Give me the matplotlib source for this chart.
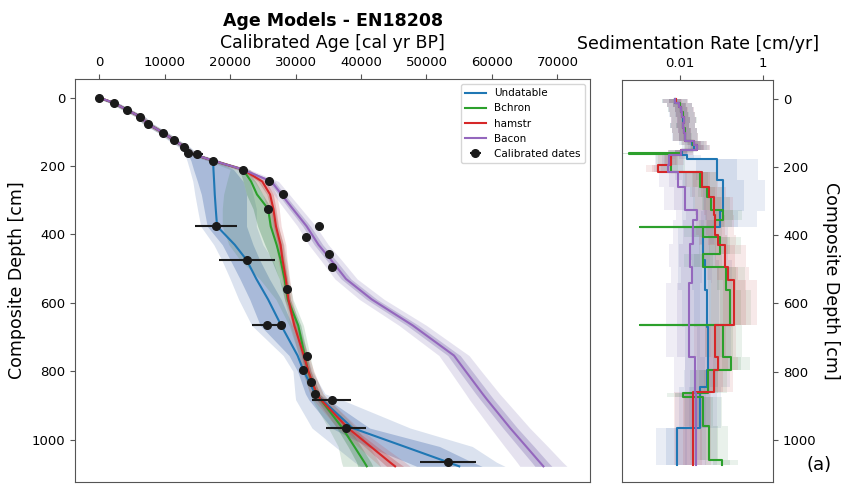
import numpy as np
import matplotlib.pyplot as plt

# ---- age-depth models (depth grid shared by all models) ----
depth = [0, 15, 36, 56, 76, 103, 124, 143, 163, 184, 210, 245, 283, 325, 376,
         430, 474, 530, 590, 666, 754, 800, 866, 883, 966, 1020, 1066, 1078]

undat_med = [0, 2200, 4300, 6300, 7400, 9800, 11400, 12950, 14000, 17400, 17450, 17550, 17650, 17800,
             18000, 20700, 22500, 24000, 25800, 27800, 30300, 31250, 33000, 34000, 38700, 46600, 53300, 55000]
undat_in_lo = [-200, 1900, 4000, 6000, 7100, 9500, 11000, 12500, 13500, 14000, 14400, 15000, 15600, 16000,
               16500, 18800, 20000, 21500, 23000, 24600, 29000, 30300, 31500, 32000, 35500, 41000, 47000, 48500]
undat_in_hi = [200, 2500, 4600, 6600, 7700, 10100, 11800, 13400, 14500, 18000, 20500, 22000, 22500, 22500,
               22500, 23500, 24500, 26000, 27800, 29500, 31000, 31800, 33500, 35000, 41300, 52000, 57000, 58500]
undat_out_lo = [-500, 1600, 3600, 5600, 6600, 9000, 10500, 12000, 13000, 13400, 13800, 14300, 14600, 15000,
                15500, 17500, 18700, 20000, 21300, 23300, 28100, 29600, 29900, 30000, 32500, 36000, 39000, 40000]
undat_out_hi = [500, 2900, 5000, 7000, 8200, 10600, 12200, 13800, 15000, 18500, 21500, 23000, 23500, 24000,
                24000, 25000, 26500, 27500, 29000, 30500, 31800, 32500, 34500, 37000, 47500, 57000, 60700, 62000]

bchron_med = [0, 2200, 4300, 6300, 7400, 9800, 11400, 12950, 14000, 17400, 21950, 23200, 24100, 25800,
              26200, 27100, 27700, 28300, 28800, 30400, 31400, 31900, 33200, 33850, 37150, 38970, 40500, 40870]
bchron_in_lo = [-200, 1900, 4000, 6000, 7100, 9500, 11100, 12650, 13700, 17000, 21400, 22000, 22500, 23500,
                24200, 25300, 26300, 27500, 28300, 29800, 30900, 31400, 32700, 33200, 36300, 38000, 39300, 39500]
bchron_in_hi = [200, 2500, 4600, 6600, 7700, 10100, 11700, 13250, 14300, 17800, 22500, 23900, 25000, 26300,
                26800, 27800, 28200, 28700, 29200, 30800, 31800, 32300, 33700, 34400, 38200, 40000, 41500, 41800]
bchron_out_lo = [-500, 1500, 3600, 5600, 6700, 9100, 10700, 12250, 13300, 16500, 20000, 19500, 19000, 18800,
                 18800, 19800, 21500, 24500, 27000, 29000, 30500, 31000, 32200, 32500, 35000, 36500, 37000, 37200]
bchron_out_hi = [500, 2900, 5000, 7000, 8100, 10500, 12100, 13650, 14800, 18300, 23000, 24600, 25800, 26800,
                 27300, 28200, 28600, 29000, 29600, 31200, 32200, 32700, 34200, 35000, 39300, 41300, 42700, 43000]

hamstr_med = [0, 2200, 4300, 6300, 7400, 9800, 11400, 12950, 14000, 17400, 21950, 24900, 26100, 26600,
              27000, 27700, 28000, 28500, 28900, 29800, 31250, 31950, 33200, 33850, 38000, 41460, 44400, 45200]
hamstr_in_lo = [0, 2000, 4050, 6000, 7100, 9500, 11100, 12650, 13700, 17100, 21600, 24300, 25600, 26200,
                26600, 27300, 27650, 28200, 28600, 29500, 30900, 31550, 32700, 33300, 37200, 40500, 43200, 43900]
hamstr_in_hi = [200, 2400, 4550, 6600, 7700, 10100, 11700, 13250, 14300, 17700, 22300, 25500, 26600, 27000,
                27400, 28100, 28350, 28800, 29200, 30100, 31600, 32350, 33700, 34400, 38800, 42400, 45600, 46500]
hamstr_out_lo = [0, 1800, 3800, 5700, 6800, 9200, 10800, 12300, 13300, 16700, 21000, 23700, 25000, 25700,
                 26200, 27000, 27300, 27900, 28300, 29200, 30500, 31100, 32200, 32700, 36400, 39500, 42200, 42900]
hamstr_out_hi = [500, 2600, 4800, 6900, 8000, 10400, 12000, 13600, 14700, 18100, 22900, 26000, 27100, 27500,
                 27800, 28500, 28700, 29100, 29500, 30400, 32000, 32800, 34200, 35000, 39600, 43400, 46700, 47500]

bacon_med = [0, 2200, 4300, 6300, 7400, 9800, 11400, 12950, 14000, 17400, 21950, 26300, 27850, 29570,
             31690, 33500, 35390, 37700, 41650, 47900, 54200, 55990, 58570, 59260, 62780, 65230, 67310, 67860]
bacon_in_lo = [-200, 1900, 4000, 6000, 7100, 9500, 11100, 12650, 13650, 17000, 21500, 25800, 27350, 29020,
               31090, 32850, 34690, 36950, 40850, 47000, 53250, 54990, 57520, 58210, 61680, 64030, 66060, 66560]
bacon_in_hi = [200, 2500, 4600, 6600, 7700, 10100, 11700, 13250, 14350, 17800, 22400, 26800, 28350, 30120,
               32290, 34150, 36090, 38450, 42450, 48800, 55150, 56990, 59620, 60310, 63880, 66430, 68560, 69160]
bacon_out_lo = [-500, 1500, 3600, 5600, 6700, 9100, 10700, 12250, 13200, 16500, 20950, 25200, 26650, 28270,
                30290, 32000, 33790, 36000, 39750, 45800, 51900, 53590, 55970, 56560, 59780, 61930, 63810, 64260]
bacon_out_hi = [500, 2900, 5000, 7000, 8100, 10500, 12100, 13650, 14800, 18300, 22950, 27400, 29050, 30870,
                33090, 35000, 36990, 39400, 43550, 50000, 56500, 58390, 61170, 61960, 65780, 68530, 70810, 71460]

# ---- calibrated dates ----
date_age = [0, 2200, 4300, 6300, 7400, 9800, 11400, 12950, 13560, 14900, 17400, 21950, 26000, 28000, 25800,
            17800, 33500, 31650, 22600, 35150, 35550, 28700, 25700, 27800, 31700, 31200, 32350, 32900,
            35500, 37700, 53250]
date_depth = [0, 15, 36, 56, 76, 103, 124, 143, 163, 164, 184, 210, 245, 283, 325,
              374, 376, 406, 475, 457, 494, 560, 666, 666, 754, 796, 830, 866,
              883, 966, 1066]
date_err = [100, 150, 150, 150, 150, 150, 200, 200, 200, 900, 300, 300, 300, 300, 300,
            3200, 300, 300, 4300, 300, 300, 300, 2400, 600, 300, 300, 300, 300,
            2950, 3050, 4250]

# ---- sedimentation rates (step functions over depth) ----
undat_edges = [0, 12, 25, 40, 55, 70, 85, 100, 123, 135, 150, 166, 176, 240, 330, 376, 474, 561, 669,
               795, 844, 966, 1073]
undat_rate = [0.0075, 0.0095, 0.0105, 0.011, 0.012, 0.0115, 0.0125, 0.013, 0.019, 0.022, 0.011,
              0.0145, 0.076, 0.11, 0.09, 0.036, 0.040, 0.044, 0.048, 0.044, 0.030, 0.0083]
undat_spread = [0.3, 0.3, 0.3, 0.3, 0.3, 0.3, 0.3, 0.3, 0.3, 0.3, 0.3,
                0.35, 1.0, 1.0, 0.9, 0.6, 0.65, 0.6, 0.55, 0.55, 0.5, 0.5]

bchron_edges = [0, 12, 25, 40, 55, 70, 85, 100, 123, 135, 150, 160, 161, 215, 259, 288, 327, 357, 375.5,
                376.5, 405, 454, 493, 561, 663.5, 664.5, 757, 795, 864, 875, 961, 1059, 1073]
bchron_rate = [0.0075, 0.0098, 0.0105, 0.0115, 0.0125, 0.0115, 0.013, 0.0135, 0.021, 0.025, 0.0105,
               0.0006, 0.006, 0.03, 0.044, 0.057, 0.11, 0.07, 0.0011, 0.036, 0.09, 0.036, 0.13, 0.16,
               0.0011, 0.11, 0.17, 0.048, 0.012, 0.036, 0.05, 0.1]
bchron_spread = [0.3, 0.3, 0.3, 0.3, 0.3, 0.3, 0.3, 0.3, 0.3, 0.3, 0.3,
                 0.4, 0.35, 0.4, 0.4, 0.45, 0.45, 0.4, 0.4, 0.45, 0.5, 0.45, 0.45, 0.5,
                 0.4, 0.45, 0.45, 0.45, 0.4, 0.45, 0.45, 0.4]

hamstr_edges = [0, 12, 25, 40, 55, 70, 85, 100, 123, 135, 150, 166, 196, 215, 259, 288, 340, 400, 430,
                493, 532, 664, 757, 795, 859, 1073]
hamstr_rate = [0.0078, 0.0097, 0.0108, 0.0112, 0.0122, 0.0118, 0.0128, 0.0132, 0.022, 0.026, 0.0105,
               0.006, 0.003, 0.033, 0.05, 0.065, 0.07, 0.08, 0.12, 0.14, 0.2, 0.07, 0.08, 0.065, 0.02]
hamstr_spread = [0.3, 0.3, 0.3, 0.3, 0.3, 0.3, 0.3, 0.3, 0.3, 0.3, 0.3,
                 0.3, 0.3, 0.4, 0.4, 0.45, 0.45, 0.45, 0.5, 0.5, 0.55, 0.5, 0.5, 0.45, 0.45]

bacon_edges = [0, 12, 25, 40, 55, 70, 85, 100, 123, 135, 150, 166, 196, 215, 259, 327, 357, 425, 493,
               540, 757, 864, 1073]
bacon_rate = [0.0076, 0.0096, 0.0106, 0.0113, 0.0122, 0.0117, 0.0127, 0.0133, 0.022, 0.026, 0.0105,
              0.0055, 0.0052, 0.009, 0.013, 0.025, 0.021, 0.017, 0.019, 0.016, 0.023, 0.024]
bacon_spread = [0.3, 0.3, 0.3, 0.3, 0.3, 0.3, 0.3, 0.3, 0.3, 0.3, 0.3,
                0.35, 0.35, 0.45, 0.5, 0.5, 0.5, 0.5, 0.5, 0.55, 0.5, 0.5]

models = [
    ('Undatable', '#1f77b4', '#4c72b0', undat_med, undat_in_lo, undat_in_hi, undat_out_lo, undat_out_hi,
     undat_edges, undat_rate, undat_spread),
    ('Bchron', '#2ca02c', '#4a8c5c', bchron_med, bchron_in_lo, bchron_in_hi, bchron_out_lo, bchron_out_hi,
     bchron_edges, bchron_rate, bchron_spread),
    ('hamstr', '#d62728', '#c44e52', hamstr_med, hamstr_in_lo, hamstr_in_hi, hamstr_out_lo, hamstr_out_hi,
     hamstr_edges, hamstr_rate, hamstr_spread),
    ('Bacon', '#9467bd', '#8172b2', bacon_med, bacon_in_lo, bacon_in_hi, bacon_out_lo, bacon_out_hi,
     bacon_edges, bacon_rate, bacon_spread),
]


def steps(edges, vals):
    ys = np.repeat(np.asarray(edges, float), 2)[1:-1]
    xs = np.repeat(np.asarray(vals, float), 2)
    return xs, ys


fig = plt.figure(figsize=(8.44, 4.84), dpi=100)
ax = fig.add_axes([0.0889, 0.004, 0.6103, 0.833])
ax2 = fig.add_axes([0.7373, 0.004, 0.1789, 0.831])

handles = []
for name, col, fcol, med, ilo, ihi, olo, ohi, edges, rate, spread in models:
    ax.fill_betweenx(depth, olo, ohi, color=fcol, alpha=0.2, lw=0, zorder=1)
    ax.fill_betweenx(depth, ilo, ihi, color=fcol, alpha=0.35, lw=0, zorder=1)

    xs, ys = steps(edges, rate)
    sp = np.repeat(np.asarray(spread), 2)
    ax2.fill_betweenx(ys, xs / 10 ** sp, xs * 10 ** sp, color=fcol, alpha=0.12, lw=0, zorder=1)
    ax2.fill_betweenx(ys, xs / 10 ** (sp / 2), xs * 10 ** (sp / 2), color=fcol, alpha=0.14, lw=0, zorder=1)

for name, col, fcol, med, ilo, ihi, olo, ohi, edges, rate, spread in models:
    h, = ax.plot(med, depth, color=col, lw=1.5, label=name, zorder=2)
    handles.append(h)
    xs, ys = steps(edges, rate)
    ax2.plot(xs, ys, color=col, lw=1.5, zorder=2)

eb = ax.errorbar(date_age, date_depth, xerr=date_err, fmt='o', color='#1a1a1a', ms=5.5,
                 elinewidth=1.5, capsize=0, label='Calibrated dates', zorder=3)
handles.append(eb)

ax.set_xlim(-3700, 75000)
ax.set_ylim(1124, -55)
ax.set_xticks(range(0, 70001, 10000))
ax.set_yticks(range(0, 1001, 200))
ax.xaxis.tick_top()
ax.xaxis.set_label_position('top')
ax.set_xlabel('Calibrated Age [cal yr BP]', fontsize=12.5, labelpad=6)
ax.set_ylabel('Composite Depth [cm]', fontsize=12.5)
ax.set_title('Age Models - EN18208', fontsize=12.5, fontweight='bold')
ax.legend(handles=handles, loc='upper right', fontsize=7.5)

ax2.set_xscale('log')
ax2.set_xlim(4.1e-4, 1.74)
ax2.set_ylim(1124, -55)
ax2.set_xticks([0.01, 1])
ax2.set_xticklabels(['0.01', '1'])
ax2.xaxis.set_minor_locator(plt.NullLocator())
ax2.set_yticks(range(0, 1001, 200))
ax2.xaxis.tick_top()
ax2.xaxis.set_label_position('top')
ax2.yaxis.tick_right()
ax2.yaxis.set_label_position('right')
ax2.set_xlabel('Sedimentation Rate [cm/yr]', fontsize=12.5, labelpad=6)
ax2.set_ylabel('Composite Depth [cm]', fontsize=12.5, rotation=270, va='bottom')

for a in (ax, ax2):
    a.tick_params(labelsize=9.5, color='#555555')
    for s in a.spines.values():
        s.set_color('#555555')

fig.text(0.985, 0.04, '(a)', ha='right', va='center', fontsize=13)

fig.savefig('out.png', dpi=100)
